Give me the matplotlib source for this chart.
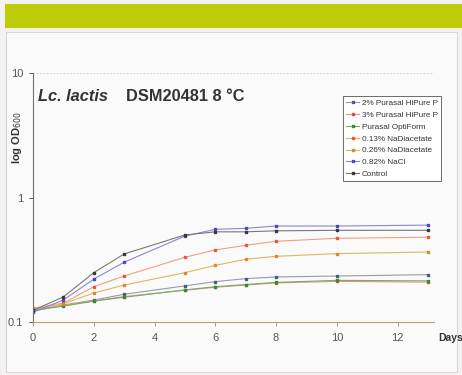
import matplotlib
matplotlib.use("Agg")
import matplotlib.pyplot as plt
from matplotlib.patches import Rectangle
from matplotlib.ticker import FixedLocator, FixedFormatter, NullLocator

plt.rcParams['font.family'] = ['Liberation Sans', 'DejaVu Sans']

days = [0, 1, 2, 3, 5, 6, 7, 8, 10, 13]
series_names = ["2% Purasal HiPure P", "3% Purasal HiPure P", "Purasal OptiForm",
                "0.13% NaDiacetate", "0.26% NaDiacetate", "0.82% NaCl", "Control"]
purasal2 = [0.122, 0.137, 0.150, 0.167, 0.195, 0.211, 0.223, 0.230, 0.234, 0.240]
purasal3 = [0.125, 0.136, 0.148, 0.160, 0.180, 0.190, 0.198, 0.206, 0.212, 0.209]
optiform = [0.124, 0.134, 0.147, 0.158, 0.181, 0.192, 0.200, 0.208, 0.216, 0.214]
nadiac013 = [0.129, 0.142, 0.192, 0.234, 0.331, 0.379, 0.413, 0.445, 0.470, 0.480]
nadiac026 = [0.127, 0.140, 0.171, 0.198, 0.249, 0.285, 0.319, 0.337, 0.354, 0.365]
nacl = [0.120, 0.150, 0.221, 0.302, 0.490, 0.555, 0.565, 0.590, 0.590, 0.600]
control = [0.124, 0.159, 0.249, 0.352, 0.500, 0.530, 0.530, 0.540, 0.545, 0.545]
y_ticks = [0.1, 1, 10]
y_tick_labels = ["0.1", "1", "10"]
x_ticks = [0, 2, 4, 6, 8, 10, 12]

data = [purasal2, purasal3, optiform, nadiac013, nadiac026, nacl, control]
line_colors = ["#9a98b0", "#e89090", "#70b060", "#f0a080", "#d8b860", "#8888d8", "#787878"]
marker_colors = ["#505880", "#e04848", "#309030", "#e85838", "#e08828", "#4848c8", "#383838"]

fig = plt.figure(figsize=(4.62, 3.75), dpi=100)
fig.patch.set_facecolor("#f3f1f1")

# green band and panel
fig.add_artist(Rectangle((5/462, 1-28/375), 1, 24/375, transform=fig.transFigure,
                         facecolor="#bccd08", edgecolor="none", zorder=-10))
fig.add_artist(Rectangle((6/462, 1-372/375), 451/462, 340/375, transform=fig.transFigure,
                         facecolor="#fbfafa", edgecolor="#d8d6d6", linewidth=0.8, zorder=-10))

ax = fig.add_axes([33/462, 1-322/375, 401/462, 249/375])
ax.set_facecolor("none")
ax.set_zorder(5)

for name, vals, lc, mc in zip(series_names, data, line_colors, marker_colors):
    ax.plot(days, vals, color=lc, linewidth=0.8, marker="s", markersize=1.8,
            markerfacecolor=mc, markeredgecolor=mc, label=name)

ax.set_yscale("log")
ax.set_ylim(0.1, 10)
ax.set_xlim(0, 13.2)
ax.yaxis.set_major_locator(FixedLocator(y_ticks))
ax.yaxis.set_major_formatter(FixedFormatter(y_tick_labels))
ax.yaxis.set_minor_locator(NullLocator())
ax.set_xticks(x_ticks)
ax.tick_params(axis="both", labelsize=8, colors="#555555", length=3, width=0.7,
               direction="out", pad=4)
ax.tick_params(axis="x", colors="#a8a060", labelcolor="#555555", pad=5)

for s in ["top", "right"]:
    ax.spines[s].set_visible(False)
ax.spines["left"].set_color("#707070")
ax.spines["bottom"].set_color("#b0a860")
ax.spines["left"].set_linewidth(0.8)
ax.spines["bottom"].set_linewidth(0.8)

ax.axhline(10, color="#c8c8d8", linewidth=0.6, linestyle=(0, (2, 2)))

ax.set_ylabel("log OD$_{600}$", fontsize=8, fontweight="bold", color="#333333")
ax.yaxis.set_label_coords(-0.022, 0.74)

ax.text(5/401, 0.935, "Lc. lactis", transform=ax.transAxes, fontsize=11.8,
        fontweight="bold", fontstyle="italic", color="#333333", va="top", ha="left")
ax.text(93/401, 0.935, "DSM20481 8 °C", transform=ax.transAxes, fontsize=11.8,
        fontweight="bold", color="#333333", va="top", ha="left")

fig.text(438/462, 1-338/375, "Days", fontsize=7.5, fontweight="bold", color="#333333",
         ha="left", va="center")

leg = ax.legend(loc="upper left", bbox_to_anchor=(306/401, 1-19/249), fontsize=5.9,
                frameon=True, fancybox=False, edgecolor="#555555", framealpha=1,
                handlelength=1.6, handletextpad=0.3, labelspacing=0.5, borderpad=0.4)
leg.get_frame().set_linewidth(0.6)
for t in leg.get_texts():
    t.set_color("#333333")

fig.savefig("out.png", dpi=100, facecolor=fig.get_facecolor())
